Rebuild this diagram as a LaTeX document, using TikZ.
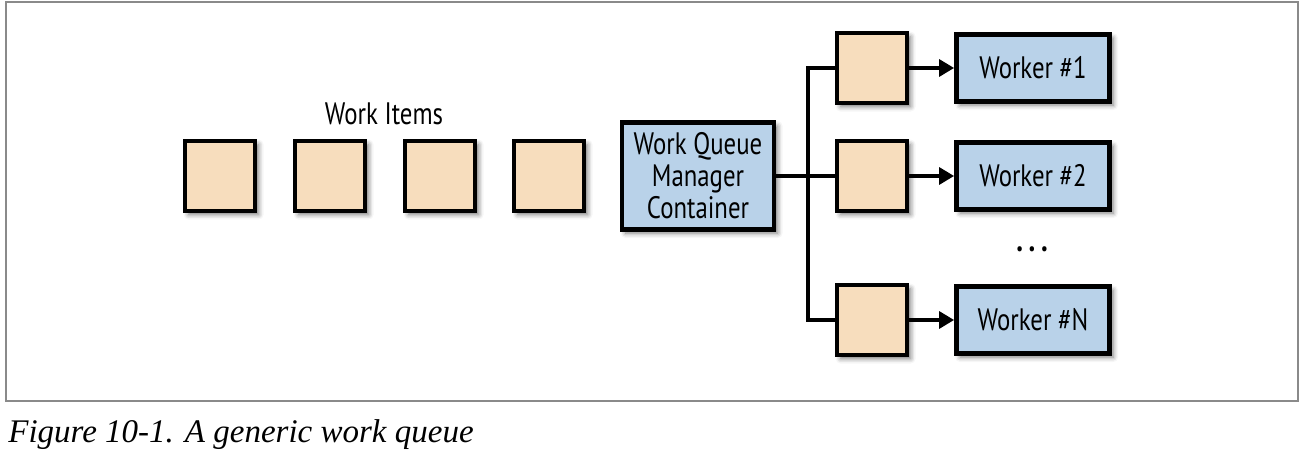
\documentclass[tikz,border=0pt]{standalone}
\usepackage{fontspec}
\setmainfont{Liberation Serif}
\setsansfont{PT Sans}[FakeStretch=0.8]
\usetikzlibrary{arrows.meta,shadows.blur}
\definecolor{peachish}{HTML}{F7DDBD}
\definecolor{blueish}{HTML}{B9D2E9}
\definecolor{frameish}{HTML}{8A8A8A}

\begin{document}
\begin{tikzpicture}[x=0.5pt,y=-0.5pt,
    shade/.style={blur shadow={shadow xshift=1.8pt,shadow yshift=-1.8pt,shadow blur radius=2.5pt,shadow opacity=55}},
    item/.style={draw,line width=2.4pt,fill=peachish,minimum size=35pt,shade},
    box/.style={draw,line width=2.4pt,fill=blueish,align=center,shade,
        font=\sffamily\fontsize{15.5}{16}\selectfont},
    link/.style={line width=1.6pt},
    arr/.style={link,-{Triangle[length=7.5pt,width=8.5pt]}}]
        \useasboundingbox (0,0) rectangle (1306,474);
        \draw[frameish,line width=1pt] (6,2) rectangle (1298,401);
        % work items
        \node[item] (w1) at (220,176) {};
        \node[item] (w2) at (330,176) {};
        \node[item] (w3) at (440,176) {};
        \node[item] (w4) at (549,176) {};
        \node[font=\sffamily\fontsize{15.5}{16}\selectfont] (witems) at (384,114) {Work Items};
        % manager
        \node[box,minimum width=76pt,minimum height=53.5pt] (mgr) at (698,176) {Work Queue\\Manager\\Container};
        % queues and workers
        \node[item] (q1) at (872,68) {};
        \node[item] (q2) at (872,176) {};
        \node[item] (qn) at (872,320) {};
        \node[box,minimum width=76.5pt,minimum height=33.5pt] (wk1) at (1033,68) {Worker \#1};
        \node[box,minimum width=76.5pt,minimum height=33.5pt] (wk2) at (1033,176) {Worker \#2};
        \node[box,minimum width=76.5pt,minimum height=33.5pt] (wkn) at (1033,320) {Worker \#N};
        \node[font=\sffamily\bfseries\fontsize{17}{18}\selectfont] (dots) at (1032,249) {.\,.\,.};
        \coordinate (fork) at (808,176);
        \draw[link] (mgr) -- (q2);
        \draw[link] (q1.west) -| (fork) |- (qn.west);
        \draw[arr] (q1) -- (wk1);
        \draw[arr] (q2) -- (wk2);
        \draw[arr] (qn) -- (wkn);
        % caption
        \node[anchor=base west,inner sep=0pt,font=\itshape\fontsize{16.5}{18}\selectfont] (cap) at (8,443) {Figure 10-1. A generic work queue};
    \end{tikzpicture}
\end{document}
